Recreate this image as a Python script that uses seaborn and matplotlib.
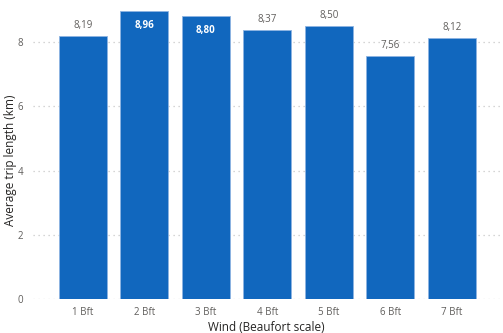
import matplotlib
matplotlib.use("Agg")
import matplotlib.pyplot as plt
import seaborn as sns
import pandas as pd

categories = ["1 Bft", "2 Bft", "3 Bft", "4 Bft", "5 Bft", "6 Bft", "7 Bft"]
avg_trip_km = [8.19, 8.96, 8.80, 8.37, 8.50, 7.56, 8.12]
y_ticks = [0, 2, 4, 6, 8]

df = pd.DataFrame({"wind": categories, "km": avg_trip_km})

sns.set_theme(style="white")
plt.rcParams["font.family"] = ["Open Sans", "DejaVu Sans"]

W, H = 503, 333
fig = plt.figure(figsize=(W / 100, H / 100), dpi=100)
left, right, top, bottom = 33, 500, 10, 299
ax = fig.add_axes([left / W, 1 - bottom / H, (right - left) / W, (bottom - top) / H])

bar_color = "#1167BE"
sns.barplot(data=df, x="wind", y="km", color=bar_color, saturation=1,
            width=0.78, ax=ax, zorder=2)
for p in ax.patches:
    p.set_edgecolor("#8DB4E2")
    p.set_linewidth(0.6)

ax.set_xlim(-0.81, 6.78)
ax.set_ylim(0, 9.0)
ax.set_yticks(y_ticks)
ax.set_yticklabels([str(t) for t in y_ticks])
ax.yaxis.grid(True, linestyle=(0, (1, 3)), color="#C8C8C8", linewidth=0.9, zorder=0)
ax.xaxis.grid(False)
for s in ax.spines.values():
    s.set_visible(False)

tick_col = "#605E5C"
ax.tick_params(axis="both", length=0, labelsize=7, colors=tick_col, pad=6)
ax.tick_params(axis="y", pad=7)
ax.set_xlabel("Wind (Beaufort scale)", fontsize=8.5, color="#252423", labelpad=2)
ax.set_ylabel("Average trip length (km)", fontsize=8.5, color="#252423")
ax.yaxis.set_label_coords(-0.034, 0.48)

# value labels: inside the bar when it reaches the top of the plot
for i, v in enumerate(avg_trip_km):
    txt = f"{v:.2f}".replace(".", ",")
    if v > 8.7:
        ax.annotate(txt, (i, v), xytext=(0, -10), textcoords="offset points",
                    ha="center", va="center", fontsize=7, color="white",
                    fontweight="bold", zorder=3)
    else:
        ax.annotate(txt, (i, v), xytext=(0, 7.5), textcoords="offset points",
                    ha="center", va="center", fontsize=7, color=tick_col, zorder=3)

fig.savefig("out.png", dpi=100)
